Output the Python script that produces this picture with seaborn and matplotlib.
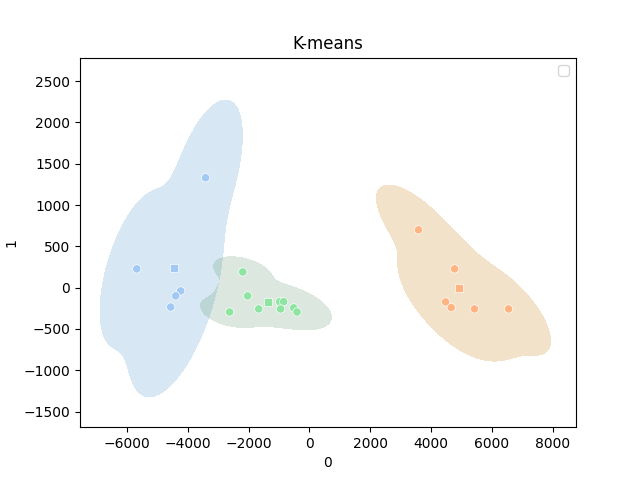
import numpy as np
import pandas as pd
import matplotlib.pyplot as plt
import seaborn as sns

# point coordinates per cluster
blue_x = [-3410, -5675, -4230, -4395, -4560]
blue_y = [1330, 227, -40, -100, -235]
green_x = [-2190, -2030, -2620, -1665, -975, -845, -945, -515, -405]
green_y = [190, -100, -295, -258, -170, -170, -258, -245, -295]
orange_x = [3590, 4775, 4480, 4665, 5430, 6550]
orange_y = [700, 227, -173, -242, -258, -258]

xs = blue_x + orange_x + green_x
ys = blue_y + orange_y + green_y
labels = [0] * len(blue_x) + [1] * len(orange_x) + [2] * len(green_x)

df = pd.DataFrame({0: xs, 1: ys, 'cluster': labels})
centers = df.groupby('cluster')[[0, 1]].mean().reset_index()

palette = sns.color_palette('pastel', 3)

fig, ax = plt.subplots(figsize=(6.4, 4.8))

sns.kdeplot(data=df, x=0, y=1, hue='cluster', palette=palette, fill=True,
            levels=2, common_norm=False, alpha=0.21, legend=False, ax=ax)
sns.scatterplot(data=df, x=0, y=1, hue='cluster', palette=palette,
                legend=False, ax=ax)
sns.scatterplot(data=centers, x=0, y=1, hue='cluster', palette=palette,
                marker='s', legend=False, ax=ax)

ax.set_title('K-means')
ax.set_xlabel('0')
ax.set_ylabel('1')
ax.legend()

plt.savefig('out.png', dpi=100)
